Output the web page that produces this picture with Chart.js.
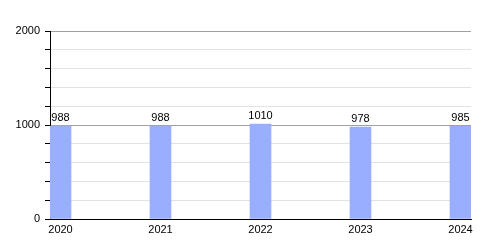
<!DOCTYPE html>
<html>
<head>
<meta charset="utf-8">
<script src="https://cdn.jsdelivr.net/npm/chart.js@4/dist/chart.umd.min.js"></script>
<style>
  body { margin: 0; background: #fff; }
  #chart { display: block; }
</style>
</head>
<body>
<canvas id="chart" width="500" height="250"></canvas>
<script>
const years = [2020, 2021, 2022, 2023, 2024];
const values = [988, 988, 1010, 978, 985];
const yTickLabels = [0, 1000, 2000];

const ctx = document.getElementById('chart').getContext('2d');

// draws the number above each bar
const valueLabels = {
    id: 'valueLabels',
    afterDatasetsDraw(chart) {
        const c = chart.ctx;
        const meta = chart.getDatasetMeta(0);
        c.save();
        c.font = '11px "Liberation Sans", Arial, sans-serif';
        c.fillStyle = '#000';
        c.textAlign = 'center';
        c.textBaseline = 'bottom';
        meta.data.forEach((bar, i) => {
            c.fillText(String(values[i]), bar.x, bar.y - 3);
        });
        c.restore();
    }
};

let chart = new Chart(ctx, {
    type: 'bar',
    data: {
        datasets: [{
            data: years.map((y, i) => ({ x: y, y: values[i] })),
            backgroundColor: '#9aaeff',
            borderWidth: 0,
            barThickness: 21
        }]
    },
    plugins: [valueLabels],
    options: {
        responsive: false,
        animation: false,
        events: [],
        layout: { padding: { top: 31, right: 29, left: 0, bottom: 0 } },
        plugins: { legend: { display: false }, tooltip: { enabled: false } },
        scales: {
            x: {
                type: 'linear',
                offset: false,
                min: years[0] - 0.105,
                max: years[years.length - 1] + 0.105,
                afterBuildTicks: (scale) => { scale.ticks = years.map(v => ({ value: v })); },
                afterFit: (scale) => { scale.height = 31; },
                grid: { display: false, drawTicks: false },
                border: { display: true, color: '#000', width: 1 },
                ticks: {
                    padding: 4,
                    color: '#000',
                    font: { family: '"Liberation Sans", Arial, sans-serif', size: 11 },
                    callback: (v) => String(v),
                    maxRotation: 0,
                    autoSkip: false
                }
            },
            y: {
                min: 0,
                max: 2000,
                afterFit: (scale) => { scale.width = 50; },
                grid: {
                    color: (c) => (c.tick && c.tick.value % 1000 === 0) ? '#a0a0a0' : '#e2e2e2',
                    tickColor: '#000',
                    tickLength: 5,
                    lineWidth: 1
                },
                border: { display: true, color: '#000', width: 1 },
                ticks: {
                    stepSize: 200,
                    padding: 5,
                    color: '#000',
                    font: { family: '"Liberation Sans", Arial, sans-serif', size: 11 },
                    callback: (v) => yTickLabels.includes(v) ? String(v) : ''
                }
            }
        }
    }
});
</script>
</body>
</html>
